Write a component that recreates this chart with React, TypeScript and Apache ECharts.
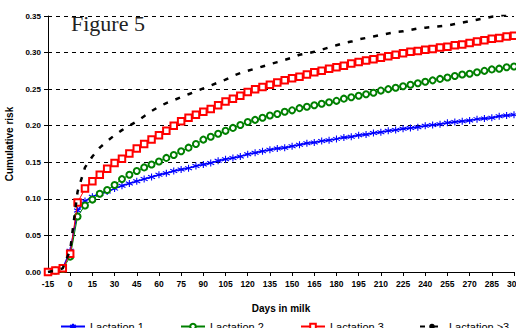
import React, { useEffect, useRef } from "react";
import * as echarts from "echarts";

const days: number[] = [
  -15, -10, -5, 0, 5, 10, 15, 20, 25, 30, 35, 40, 45, 50, 55, 60, 65, 70, 75, 80, 85, 90, 95, 100,
  105, 110, 115, 120, 125, 130, 135, 140, 145, 150, 155, 160, 165, 170, 175, 180, 185, 190, 195, 200,
  205, 210, 215, 220, 225, 230, 235, 240, 245, 250, 255, 260, 265, 270, 275, 280, 285, 290, 295, 300,
];

const lactation1: number[] = [
  0.0, 0.002, 0.005, 0.029, 0.084, 0.097, 0.103, 0.107, 0.11, 0.114, 0.118, 0.121, 0.124, 0.127, 0.13, 0.133,
  0.135, 0.138, 0.14, 0.142, 0.145, 0.147, 0.149, 0.152, 0.154, 0.156, 0.158, 0.161, 0.163, 0.165, 0.167, 0.169,
  0.17, 0.172, 0.174, 0.176, 0.177, 0.179, 0.18, 0.182, 0.184, 0.185, 0.187, 0.188, 0.19, 0.191, 0.193, 0.194,
  0.196, 0.197, 0.198, 0.2, 0.201, 0.202, 0.204, 0.205, 0.206, 0.207, 0.209, 0.21, 0.211, 0.213, 0.214, 0.215,
];

const lactation2: number[] = [
  0.0, 0.002, 0.004, 0.021, 0.076, 0.091, 0.099, 0.107, 0.112, 0.119, 0.127, 0.133, 0.138, 0.143, 0.147, 0.151,
  0.156, 0.16, 0.165, 0.17, 0.175, 0.181, 0.185, 0.189, 0.193, 0.197, 0.201, 0.205, 0.208, 0.211, 0.214, 0.216,
  0.219, 0.221, 0.224, 0.226, 0.228, 0.23, 0.232, 0.234, 0.237, 0.239, 0.241, 0.243, 0.245, 0.248, 0.25, 0.252,
  0.254, 0.256, 0.258, 0.26, 0.262, 0.264, 0.266, 0.268, 0.27, 0.271, 0.273, 0.275, 0.277, 0.278, 0.28, 0.281,
];

const lactation3: number[] = [
  0.0, 0.002, 0.005, 0.025, 0.095, 0.114, 0.124, 0.133, 0.141, 0.149, 0.155, 0.162, 0.169, 0.175, 0.181, 0.187,
  0.193, 0.2, 0.206, 0.211, 0.215, 0.219, 0.223, 0.228, 0.233, 0.237, 0.241, 0.246, 0.25, 0.253, 0.256, 0.259,
  0.262, 0.265, 0.267, 0.27, 0.273, 0.275, 0.278, 0.28, 0.282, 0.285, 0.287, 0.289, 0.291, 0.293, 0.295, 0.297,
  0.299, 0.301, 0.302, 0.304, 0.305, 0.307, 0.308, 0.31, 0.311, 0.313, 0.315, 0.317, 0.319, 0.32, 0.322, 0.323,
];

const lactationOver3: number[] = [
  0.0, 0.002, 0.005, 0.03, 0.11, 0.143, 0.158, 0.17, 0.179, 0.187, 0.194, 0.2, 0.206, 0.213, 0.22, 0.226,
  0.231, 0.235, 0.239, 0.243, 0.247, 0.251, 0.255, 0.259, 0.263, 0.268, 0.272, 0.275, 0.278, 0.281, 0.284, 0.287,
  0.29, 0.293, 0.297, 0.299, 0.301, 0.304, 0.307, 0.31, 0.313, 0.315, 0.318, 0.32, 0.322, 0.324, 0.326, 0.328,
  0.329, 0.331, 0.333, 0.334, 0.335, 0.336, 0.337, 0.339, 0.341, 0.343, 0.345, 0.347, 0.349, 0.35, 0.352, 0.354,
];

const seriesNames: string[] = ["Lactation 1", "Lactation 2", "Lactation 3", "Lactation >3"];

const asterisk = "path://M5,0 L5,10 M0.67,2.5 L9.33,7.5 M0.67,7.5 L9.33,2.5";

export default function App() {
  const ref = useRef<HTMLDivElement>(null);

  useEffect(() => {
    document.body.style.margin = "0";
    if (!ref.current) return;
    const chart = echarts.init(ref.current, undefined, { renderer: "svg" });
    const pair = (arr: number[]) => days.map((d, i) => [d, arr[i]]);
    const font = "Liberation Sans";

    const legendBase = (name: string, left: number) => ({
      data: [name],
      left,
      top: 321,
      padding: 0,
      itemWidth: 24,
      itemHeight: 7,
      textStyle: { fontFamily: font, fontSize: 11, color: "#000" },
    });

    chart.setOption({
      animation: false,
      backgroundColor: "#fff",
      grid: { left: 48, right: 2, top: 16, bottom: 56, containLabel: false, outerBoundsMode: "none" },
      graphic: [
        {
          type: "text",
          left: 71,
          top: 12,
          style: { text: "Figure 5", fontFamily: "Liberation Serif", fontSize: 22, fill: "#222" },
        },
      ],
      legend: [
        legendBase(seriesNames[0], 60),
        legendBase(seriesNames[1], 180),
        legendBase(seriesNames[2], 300),
        legendBase(seriesNames[3], 419),
      ],
      xAxis: {
        type: "value",
        min: -15,
        max: 300,
        interval: 15,
        name: "Days in milk",
        nameLocation: "middle",
        nameGap: 31,
        nameTextStyle: { fontFamily: font, fontSize: 10, fontWeight: "bold", color: "#000" },
        axisLine: { onZero: false, lineStyle: { color: "#000", width: 1 } },
        axisTick: { length: 4, lineStyle: { color: "#000" } },
        axisLabel: { fontFamily: font, fontSize: 8.5, fontWeight: "bold", color: "#000", margin: 7 },
        splitLine: { show: false },
      },
      yAxis: {
        type: "value",
        min: 0,
        max: 0.35,
        interval: 0.05,
        name: "Cumulative risk",
        nameLocation: "middle",
        nameGap: 30,
        nameTextStyle: { fontFamily: font, fontSize: 10, fontWeight: "bold", color: "#000" },
        axisLine: { show: true, onZero: false, lineStyle: { color: "#000", width: 1 } },
        axisTick: { show: true, length: 4, lineStyle: { color: "#000" } },
        axisLabel: {
          fontFamily: font,
          fontSize: 8,
          fontWeight: "bold",
          color: "#000",
          margin: 7,
          formatter: (v: number) => v.toFixed(2),
        },
        splitLine: { show: true, lineStyle: { color: "#000", type: [4, 4], width: 1 } },
      },
      series: [
        {
          name: seriesNames[0],
          type: "line",
          data: pair(lactation1),
          symbol: asterisk,
          symbolSize: 7,
          showAllSymbol: true,
          color: "#0000ff",
          lineStyle: { color: "#0000ff", width: 1.5 },
          itemStyle: { color: "#0000ff", borderColor: "#0000ff", borderWidth: 1.1 },
          z: 2,
        },
        {
          name: seriesNames[1],
          type: "line",
          data: pair(lactation2),
          symbol: "emptyCircle",
          symbolSize: 6,
          showAllSymbol: true,
          color: "#008000",
          lineStyle: { color: "#008000", width: 1 },
          itemStyle: { color: "#008000", borderColor: "#008000", borderWidth: 0.9 },
          z: 3,
        },
        {
          name: seriesNames[2],
          type: "line",
          data: pair(lactation3),
          symbol: "emptyRect",
          symbolSize: 6.5,
          showAllSymbol: true,
          color: "#ff0000",
          lineStyle: { color: "#ff0000", width: 1 },
          itemStyle: { color: "#ff0000", borderColor: "#ff0000", borderWidth: 0.9 },
          z: 4,
        },
        {
          name: seriesNames[3],
          type: "line",
          data: pair(lactationOver3),
          symbol: "none",
          color: "#000",
          lineStyle: { color: "#000", width: 2.5, type: [5, 8] },
          z: 5,
        },
      ],
    });
    return () => chart.dispose();
  }, []);

  return (
    <div
      ref={ref}
      style={{ position: "fixed", left: 0, top: 0, width: 516, height: 328 }}
    />
  );
}
